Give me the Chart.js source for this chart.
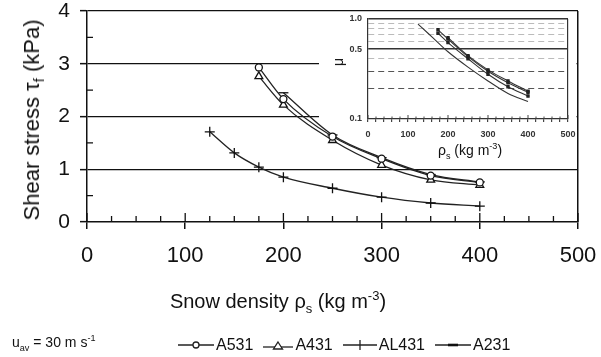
<!DOCTYPE html>
<html>
<head>
<meta charset="utf-8">
<script src="https://cdn.jsdelivr.net/npm/chart.js@4.4.0/dist/chart.umd.min.js"></script>
<style>
body { margin:0; background:#fff; font-family:'Liberation Sans', Arial, sans-serif; color:#111; }
#wrap { position:relative; width:601px; height:357px; overflow:hidden; }
#main { position:absolute; left:0; top:0; }
#inset { position:absolute; left:319px; top:12px; }
.lbl { position:absolute; white-space:nowrap; line-height:1; }
sub, sup { font-size:0.65em; line-height:0; }
#ytitle { left:32px; top:120px; font-size:22px; transform:translate(-50%,-50%) rotate(-90deg); }
#xtitle { left:278px; top:301px; font-size:20px; transform:translate(-50%,-50%); }
#mu { left:338px; top:62px; font-size:14px; transform:translate(-50%,-50%) rotate(-90deg); }
#ixtitle { left:470px; top:150px; font-size:14px; transform:translate(-50%,-50%); }
#uav { left:12px; top:342px; font-size:14px; transform:translateY(-50%); }
#legend { left:178px; top:345px; font-size:16px; transform:translateY(-50%); display:flex; gap:10px; align-items:center; }
#legend span { display:flex; align-items:center; gap:2px; }
</style>
</head>
<body>
<div id="wrap">
  <canvas id="main" width="601" height="357"></canvas>
  <canvas id="inset" width="259" height="135"></canvas>
  <div class="lbl" id="ytitle">Shear stress τ<sub>f</sub> (kPa)</div>
  <div class="lbl" id="xtitle">Snow density ρ<sub>s</sub> (kg m<sup>-3</sup>)</div>
  <div class="lbl" id="mu">μ</div>
  <div class="lbl" id="ixtitle">ρ<sub>s</sub> (kg m<sup>-3</sup>)</div>
  <div class="lbl" id="uav">u<sub>av</sub> = 30 m s<sup>-1</sup></div>
  <div class="lbl" id="legend">
    <span><svg width="36" height="12"><line x1="0" y1="6" x2="36" y2="6" stroke="#222" stroke-width="1.3"/><circle cx="18" cy="6" r="3" fill="#fff" stroke="#222" stroke-width="1.3"/></svg>A531</span>
    <span><svg width="30" height="12"><line x1="0" y1="8" x2="30" y2="8" stroke="#222" stroke-width="1.3"/><polygon points="15,3 19.5,10 10.5,10" fill="#fff" stroke="#222" stroke-width="1.3"/></svg>A431</span>
    <span><svg width="34" height="12"><line x1="0" y1="6" x2="34" y2="6" stroke="#222" stroke-width="1.3"/><line x1="17" y1="1" x2="17" y2="11" stroke="#222" stroke-width="1.3"/></svg>AL431</span>
    <span><svg width="36" height="12"><line x1="0" y1="6" x2="36" y2="6" stroke="#222" stroke-width="1.3"/><line x1="13" y1="6" x2="23" y2="6" stroke="#111" stroke-width="2.6"/></svg>A231</span>
  </div>
</div>
<script>
// snow density (kg m-3)
var densityA = [175, 200, 250, 300, 350, 400];
var densityA231 = [200, 250, 300, 350, 400];
var densityAL = [125, 150, 175, 200, 250, 300, 350, 400];

// shear stress (kPa)
var tauA531 = [2.93, 2.33, 1.62, 1.20, 0.88, 0.75];
var tauA431 = [2.76, 2.22, 1.55, 1.08, 0.80, 0.70];
var tauAL431 = [1.71, 1.31, 1.04, 0.85, 0.64, 0.47, 0.36, 0.30];
var tauA231 = [2.45, 1.65, 1.22, 0.90, 0.76];

// friction coefficient mu (inset)
var muA531 = [0.78, 0.63, 0.42, 0.30, 0.23, 0.185];
var muA431 = [0.72, 0.58, 0.40, 0.28, 0.21, 0.17];
var muAL431 = [0.89, 0.72, 0.58, 0.47, 0.33, 0.24, 0.18, 0.15];
var muA231 = [0.65, 0.43, 0.31, 0.24, 0.19];

var yTicks = [0, 1, 2, 3, 4];
var muTicks = [0.1, 0.2, 0.3, 0.4, 0.5, 0.6, 0.7, 0.8, 0.9, 1.0];
var muLabels = [0.1, 0.5, 1.0];

function pts(xs, ys){
    return xs.map(function(x, i){ return {x: x, y: ys[i]}; });
}

Chart.defaults.font.family = "'Liberation Sans', Arial, sans-serif";
Chart.defaults.color = '#111';
Chart.defaults.animation = false;

// short ticks pointing into the plot
var innerTicks = {
    id: 'innerTicks',
    afterDatasetsDraw: function(chart, args, o){
        var c = chart.ctx, x = chart.scales.x, y = chart.scales.y;
        c.save();
        c.strokeStyle = o.color;
        c.lineWidth = o.width;
        c.beginPath();
        x.ticks.forEach(function(t){
            var px = x.getPixelForValue(t.value);
            var len = t.value % o.xMajor === 0 ? o.majorLen : o.minorLen;
            c.moveTo(px, x.top);
            c.lineTo(px, x.top - len);
        });
        if(o.yMinor){
            y.ticks.forEach(function(t){
                if(t.value % 1 !== 0){
                    var py = y.getPixelForValue(t.value);
                    c.moveTo(y.right, py);
                    c.lineTo(y.right + o.minorLen, py);
                }
            });
        }
        c.stroke();
        c.restore();
    }
};

// blank area behind the inset
var insetCover = {
    id: 'insetCover',
    beforeDatasetsDraw: function(chart, args, o){
        var c = chart.ctx, a = chart.chartArea;
        c.save();
        c.fillStyle = '#fff';
        c.fillRect(o.left, a.top + 1.5, a.right - o.left - 1.5, o.bottom - a.top);
        c.restore();
    }
};

function noPadX(s, h){ s.height = h; s.paddingLeft = 0; s.paddingRight = 0; }
function noPadY(s, w){ s.width = w; s.paddingTop = 0; s.paddingBottom = 0; }

function serie(label, data, style, radius){
    return {
        label: label,
        data: data,
        showLine: true,
        borderColor: '#222',
        borderWidth: 1.3,
        cubicInterpolationMode: 'monotone',
        pointStyle: style,
        pointRadius: radius,
        pointBorderColor: '#111',
        pointBackgroundColor: '#fff',
        pointBorderWidth: 1.3
    };
}

new Chart(document.getElementById('main'), {
    type: 'scatter',
    data: {
        datasets: [
            serie('A531', pts(densityA, tauA531), 'circle', 3.5),
            serie('A431', pts(densityA, tauA431), 'triangle', 4.5),
            serie('AL431', pts(densityAL, tauAL431), 'cross', 5),
            serie('A231', pts(densityA231, tauA231), 'line', 5)
        ]
    },
    options: {
        responsive: false,
        layout: { padding: { left: 0, right: 23, top: 11, bottom: 85 } },
        plugins: {
            legend: { display: false },
            tooltip: { enabled: false },
            innerTicks: { color: '#111', width: 1.3, xMajor: 100, majorLen: 9, minorLen: 6, yMinor: true },
            insetCover: { left: 319, bottom: 124 }
        },
        scales: {
            x: {
                type: 'linear', min: 0, max: 500,
                afterFit: function(s){ noPadX(s, 50); },
                ticks: {
                    stepSize: 25, autoSkip: false, maxRotation: 0, padding: 14,
                    font: { size: 22 }, color: '#111',
                    callback: function(v){ return v % 100 === 0 ? v : ''; }
                },
                grid: {
                    drawOnChartArea: true, tickLength: 7,
                    color: function(c){ return c.tick && c.tick.value === 500 ? '#111' : 'rgba(0,0,0,0)'; },
                    tickColor: function(c){ return c.tick && c.tick.value % 100 === 0 ? '#111' : 'rgba(0,0,0,0)'; },
                    lineWidth: 1.5, tickWidth: 1.5
                },
                border: { color: '#111', width: 1.5 }
            },
            y: {
                min: 0, max: 4,
                afterFit: function(s){ noPadY(s, 87); },
                ticks: {
                    stepSize: 0.5, padding: 10, autoSkip: false,
                    font: { size: 21 }, color: '#111',
                    callback: function(v){ return yTicks.indexOf(v) >= 0 ? v : ''; }
                },
                grid: {
                    tickLength: 7,
                    color: function(c){ return c.tick && c.tick.value % 1 === 0 && c.tick.value > 0 ? '#111' : 'rgba(0,0,0,0)'; },
                    tickColor: function(c){ return c.tick && c.tick.value % 1 === 0 ? '#111' : 'rgba(0,0,0,0)'; },
                    lineWidth: 1.3, tickWidth: 1.5
                },
                border: { color: '#111', width: 1.5 }
            }
        }
    },
    plugins: [innerTicks, insetCover]
});

function small(label, data, radius){
    return {
        label: label,
        data: data,
        showLine: true,
        borderColor: '#333',
        borderWidth: 1.1,
        cubicInterpolationMode: 'monotone',
        pointStyle: 'rect',
        pointRadius: radius,
        pointBackgroundColor: '#222',
        pointBorderColor: '#222'
    };
}

new Chart(document.getElementById('inset'), {
    type: 'scatter',
    data: {
        datasets: [
            small('A531', pts(densityA, muA531), 1.6),
            small('A431', pts(densityA, muA431), 1.6),
            small('AL431', pts(densityAL, muAL431), 0),
            small('A231', pts(densityA231, muA231), 1.6)
        ]
    },
    options: {
        responsive: false,
        layout: { padding: { left: 0, right: 10, top: 7, bottom: 3 } },
        plugins: {
            legend: { display: false },
            tooltip: { enabled: false },
            innerTicks: { color: '#444', width: 1, xMajor: 100, majorLen: 4, minorLen: 2.5, yMinor: false }
        },
        scales: {
            x: {
                type: 'linear', min: 0, max: 500,
                afterFit: function(s){ noPadX(s, 25); },
                ticks: {
                    stepSize: 20, autoSkip: false, maxRotation: 0, padding: 7,
                    font: { size: 9, weight: 'bold' }, color: '#333',
                    callback: function(v){ return v % 100 === 0 ? v : ''; }
                },
                grid: {
                    tickLength: 3,
                    color: function(c){ return c.tick && c.tick.value === 500 ? '#333' : 'rgba(0,0,0,0)'; },
                    tickColor: '#444', lineWidth: 1.2
                },
                border: { color: '#333', width: 1.2 }
            },
            y: {
                type: 'logarithmic', min: 0.1, max: 1,
                afterFit: function(s){ noPadY(s, 49); },
                afterBuildTicks: function(s){
                    s.ticks = muTicks.map(function(v){ return {value: v}; });
                },
                ticks: {
                    padding: 6, autoSkip: false, font: { size: 9, weight: 'bold' }, color: '#333',
                    callback: function(v){ return muLabels.indexOf(v) >= 0 ? v.toFixed(1) : ''; }
                },
                grid: {
                    drawTicks: false,
                    color: function(c){
                        if(!c.tick) return '#333';
                        var v = c.tick.value;
                        if(v === 1 || v === 0.5) return '#333';
                        if(v === 0.3 || v === 0.2) return '#555';
                        if(v === 0.1) return 'rgba(0,0,0,0)';
                        return '#bbb';
                    },
                    lineWidth: function(c){
                        return c.tick && (c.tick.value === 1 || c.tick.value === 0.5) ? 1.4 : 1.1;
                    }
                },
                border: {
                    color: '#333', width: 1.2,
                    dash: function(c){
                        if(!c.tick) return [];
                        var v = c.tick.value;
                        return (v === 1 || v === 0.5) ? [] : [6, 4];
                    }
                }
            }
        }
    },
    plugins: [innerTicks]
});
</script>
</body>
</html>
